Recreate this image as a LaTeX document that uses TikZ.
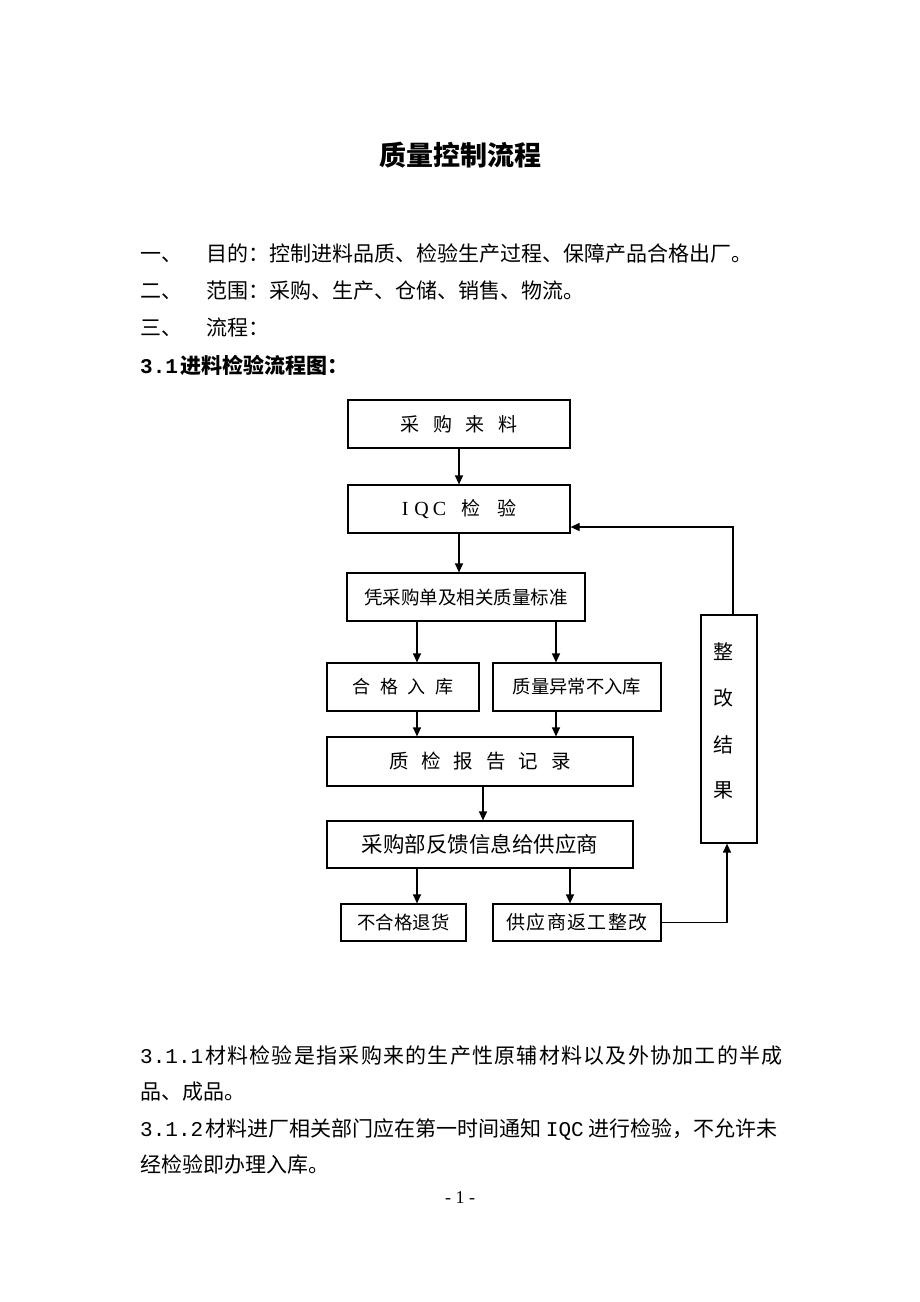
\documentclass[tikz,border=0pt]{standalone}
\usepackage{fontspec}
\usetikzlibrary{arrows.meta}
\setmainfont{Noto Sans CJK SC}
\newfontfamily\monof{Liberation Mono}
\newfontfamily\tmsf{Liberation Serif}
\newcommand\myfs[1]{\fontsize{#1}{#1}\selectfont}
\begin{document}
\begin{tikzpicture}[x=1pt,y=-1pt,
  txt/.style={anchor=base west,inner sep=0pt,font=\myfs{21pt}},
  box/.style={draw,line width=1.2pt,inner sep=0pt,align=center},
  vch/.style={inner sep=0pt,font=\myfs{20pt}},
  arr/.style={line width=1.2pt,-{Triangle[length=9pt,width=8pt]}}]
\fill[white] (0,0) rectangle (920,1302);
\useasboundingbox (0,0) rectangle (920,1302);
% title
\node[inner sep=0pt,font=\myfs{27pt}\bfseries] (title) at (460,155) {质量控制流程};
% header lines
\node[txt] (l1a) at (140,261) {一、};
\node[txt] (l1b) at (206,261) {目的：控制进料品质、检验生产过程、保障产品合格出厂。};
\node[txt] (l2a) at (140,298) {二、};
\node[txt] (l2b) at (206,298) {范围：采购、生产、仓储、销售、物流。};
\node[txt] (l3a) at (140,335) {三、};
\node[txt] (l3b) at (206,335) {流程：};
\node[txt,font=\myfs{21pt}\bfseries] (l4) at (140,373) {{\monof\bfseries 3.1}\hspace{2pt}进料检验流程图：};
% boxes
\node[box,minimum width=222pt,minimum height=48pt,font=\myfs{19pt}] (b1) at (459,424)
  {采\hspace{13.5pt}购\hspace{13.5pt}来\hspace{13.5pt}料};
\node[box,minimum width=222pt,minimum height=48pt,font=\myfs{19pt}] (b2) at (459,509)
  {{\tmsf\myfs{20pt}I\hspace{6pt}Q\hspace{4pt}C}\hspace{15pt}检\hspace{17pt}验};
\node[box,minimum width=238pt,minimum height=48pt,font=\myfs{18.5pt}] (b3) at (466,597)
  {凭采购单及相关质量标准};
\node[box,minimum width=152pt,minimum height=48pt,font=\myfs{18pt}] (b4) at (403,687)
  {合\hspace{9.7pt}格\hspace{9.7pt}入\hspace{9.7pt}库};
\node[box,minimum width=168pt,minimum height=48pt,font=\myfs{18.3pt}] (b5) at (577,687)
  {质量异常不入库};
\node[box,minimum width=306pt,minimum height=49pt,font=\myfs{19.5pt}] (b6) at (480,761.5)
  {质\hspace{13pt}检\hspace{13pt}报\hspace{13pt}告\hspace{13pt}记\hspace{13pt}录};
\node[box,minimum width=306pt,minimum height=47pt,font=\myfs{21.5pt}] (b7) at (480,844.5)
  {采购部反馈信息给供应商};
\node[box,minimum width=125pt,minimum height=37pt,font=\myfs{18.4pt}] (b8) at (403.5,922.5)
  {不合格退货};
\node[box,minimum width=168pt,minimum height=37pt,font=\myfs{19pt}] (b9) at (577,922.5)
  {供\hspace{1.4pt}应\hspace{1.4pt}商\hspace{1.4pt}返\hspace{1.4pt}工\hspace{1.4pt}整\hspace{1.4pt}改};
\node[box,minimum width=56pt,minimum height=228pt] (b10) at (729,729) {};
\node[vch] (t10a) at (723,652) {整};
\node[vch] (t10b) at (723,698) {改};
\node[vch] (t10c) at (723,745) {结};
\node[vch] (t10d) at (723,790) {果};
% helper x positions
\coordinate (xc) at (459,0);
\coordinate (xl) at (417,0);
\coordinate (xr) at (556,0);
\coordinate (xm) at (483,0);
\coordinate (xr2) at (570,0);
\coordinate (xs) at (727,0);
\coordinate (xf) at (733,0);
\coordinate (yf) at (0,527);
% connectors
\draw[arr] (b1) -- (b2);
\draw[arr] (b2.south -| xc) -- (b3.north -| xc);
\draw[arr] (b3.south -| xl) -- (b4.north -| xl);
\draw[arr] (b3.south -| xr) -- (b5.north -| xr);
\draw[arr] (b4.south -| xl) -- (b6.north -| xl);
\draw[arr] (b5.south -| xr) -- (b6.north -| xr);
\draw[arr] (b6.south -| xm) -- (b7.north -| xm);
\draw[arr] (b7.south -| xl) -- (b8.north -| xl);
\draw[arr] (b7.south -| xr2) -- (b9.north -| xr2);
\draw[arr] (b9.east) -| (b10.south -| xs);
\draw[arr] (b10.north -| xf) |- (b2.east |- yf);
% body text
\node[txt] (p1) at (140,1063) {{\monof 3.1.1}\hspace{2pt}{\addfontfeature{LetterSpace=6.0}材料检验是指采购来的生产性原辅材料以及外协加工的半成}};
\node[txt] (p2) at (140,1099) {品、成品。};
\node[txt] (p3) at (140,1136) {{\monof 3.1.2}\hspace{2pt}材料进厂相关部门应在第一时间通知 {\monof IQC} 进行检验，不允许未};
\node[txt] (p4) at (140,1172) {经检验即办理入库。};
\node[inner sep=0pt,font=\tmsf\myfs{18pt}] (pg) at (460,1198) {- 1 -};
\end{tikzpicture}
\end{document}
